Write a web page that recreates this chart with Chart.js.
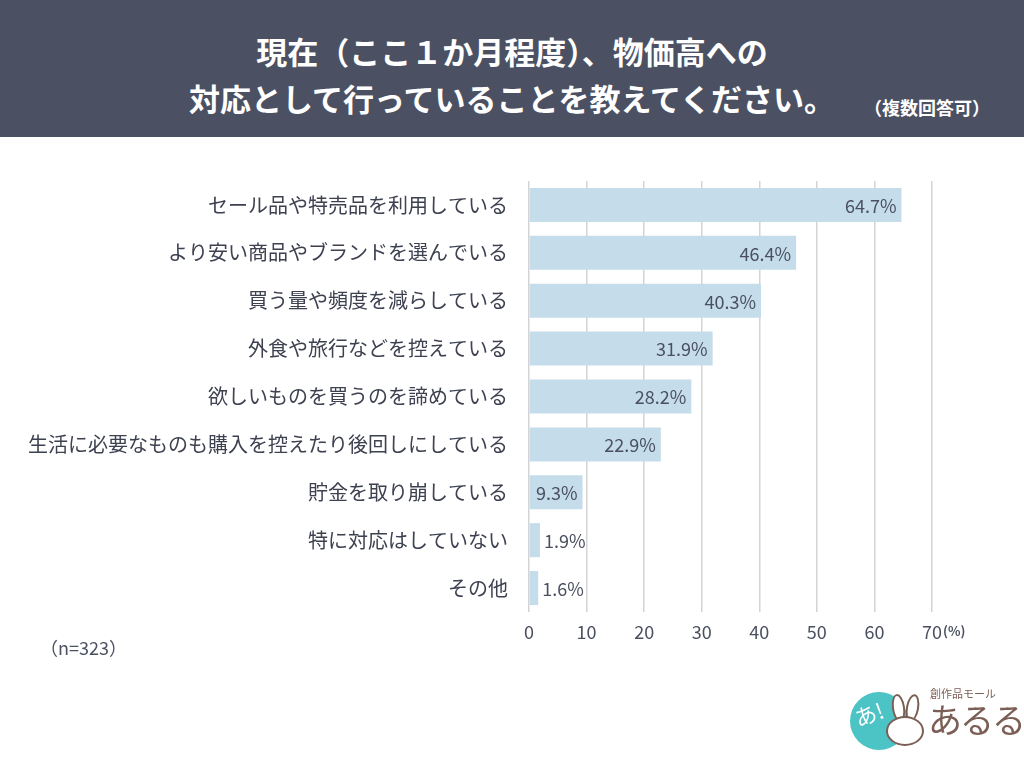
<!DOCTYPE html>
<html><head><meta charset="utf-8">
<script src="https://cdn.jsdelivr.net/npm/chart.js@4"></script>
<style>
html,body{margin:0;padding:0;background:#fff;}
body{width:1024px;height:769px;position:relative;overflow:hidden;font-family:"Noto Sans CJK JP","Noto Sans",sans-serif;}
#hdr{position:absolute;left:0;top:0;width:1024px;height:137px;background:#4b5162;}
.t{position:absolute;left:0;width:1024px;text-align:center;color:#fff;font-weight:bold;font-size:31px;line-height:1;}
#sub{position:absolute;left:864px;top:98px;color:#fff;font-weight:bold;font-size:18px;line-height:1;}
#n{position:absolute;left:40px;top:638px;color:#4a5060;font-size:18px;line-height:1;}
#c{position:absolute;left:0;top:0;}
#logo{position:absolute;left:848px;top:688px;width:176px;height:70px;}
#circ{position:absolute;left:2px;top:4px;width:58px;height:58px;border-radius:50%;background:#4cc3c4;}
#a1{position:absolute;left:6px;top:14px;color:#fff;font-size:22px;transform:rotate(-20deg);line-height:1;}
.ear{position:absolute;width:9px;height:24px;border:2px solid #7b5e55;border-radius:50%;background:#fff;}
#face{position:absolute;left:38px;top:28px;width:34px;height:26px;border:2px solid #7b5e55;border-radius:50%;background:#fff;}
#sm{position:absolute;left:82px;top:0px;color:#7b5e55;font-size:11px;line-height:1;}
#ar{position:absolute;left:80px;top:14px;color:#7b5e55;font-size:34px;line-height:1;letter-spacing:-2px;}
</style></head><body>
<div id="hdr">
<div class="t" style="top:35px">現在（ここ１か月程度）、物価高への</div>
<div class="t" style="top:82px">対応として行っていることを教えてください。</div>
<div id="sub">（複数回答可）</div>
</div>
<canvas id="c" width="1024" height="769"></canvas>
<div id="n">（n=323）</div>
<div id="logo"><div id="circ"></div><div id="a1">あ!</div>
<div class="ear" style="left:44px;top:6px;transform:rotate(-8deg)"></div>
<div class="ear" style="left:58px;top:6px;transform:rotate(10deg)"></div>
<div id="face"></div>
<div id="sm">創作品モール</div><div id="ar">あるる</div></div>
<script>
const categories = ["セール品や特売品を利用している","より安い商品やブランドを選んでいる","買う量や頻度を減らしている","外食や旅行などを控えている","欲しいものを買うのを諦めている","生活に必要なものも購入を控えたり後回しにしている","貯金を取り崩している","特に対応はしていない","その他"];
const values = [64.7,46.4,40.3,31.9,28.2,22.9,9.3,1.9,1.6];
const xTicks = [0,10,20,30,40,50,60,70];
const FONT = '"Noto Sans CJK JP","Noto Sans",sans-serif';
const TXT = '#4a5060';

const labelPlugin = {
  id:'vals',
  afterDatasetsDraw(chart){
    const ctx = chart.ctx;
    const meta = chart.getDatasetMeta(0);
    ctx.save();
    ctx.font = '18px ' + FONT;
    ctx.fillStyle = TXT;
    ctx.textBaseline = 'middle';
    meta.data.forEach((bar,i)=>{
      const v = values[i];
      const txt = v.toFixed(1)+'%';
      if (v < 5) { ctx.textAlign='left'; ctx.fillText(txt, bar.x+4, bar.y+1); }
      else { ctx.textAlign='right'; ctx.fillText(txt, bar.x-5, bar.y+1); }
    });
    const xs = chart.scales.x;
    ctx.font = 'bold 13px ' + FONT;
    ctx.textAlign='left';
    ctx.fillText('(%)', xs.getPixelForValue(70)+11, 631);
    ctx.restore();
  }
};

new Chart(document.getElementById('c'), {
  type:'bar',
  data:{labels:categories, datasets:[{data:values, backgroundColor:'#c5dcea', borderWidth:0, barPercentage:0.71, categoryPercentage:1}]},
  options:{
    indexAxis:'y', responsive:false, animation:false,
    layout:{padding:{left:0,right:92,top:181,bottom:117}},
    plugins:{legend:{display:false},tooltip:{enabled:false}},
    scales:{
      x:{min:0,max:70,
        afterBuildTicks(s){ s.ticks = xTicks.map(v=>({value:v})); },
        afterFit(s){ s.height = 40; },
        grid:{color:'#d4d4d4',lineWidth:1.5,drawTicks:false},
        border:{display:false},
        ticks:{padding:9,color:TXT,font:{family:FONT,size:18}}
      },
      y:{
        afterFit(s){ s.width = 529; },
        grid:{display:false,drawTicks:false},
        border:{display:false},
        ticks:{padding:21,color:'#3d4150',font:{family:FONT,size:20}}
      }
    }
  },
  plugins:[labelPlugin]
});
</script>
</body></html>
